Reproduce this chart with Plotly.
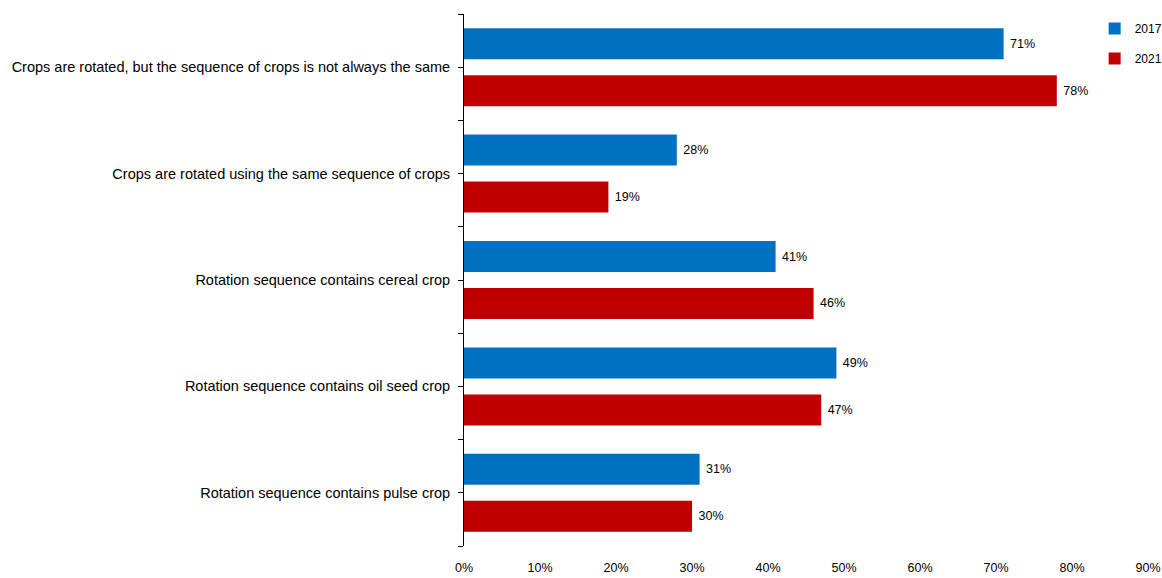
import plotly.graph_objects as go

categories = [
    "Crops are rotated, but the sequence of crops is not always the same",
    "Crops are rotated using the same sequence of crops",
    "Rotation sequence contains cereal crop",
    "Rotation sequence contains oil seed crop",
    "Rotation sequence contains pulse crop",
]
values_2017 = [71, 28, 41, 49, 31]
values_2021 = [78, 19, 46, 47, 30]
series_names = ["2017", "2021"]
x_ticks = [0, 10, 20, 30, 40, 50, 60, 70, 80, 90]

FONT = "Liberation Sans, Arial, sans-serif"
colors = ["#0070C0", "#C00000"]
pos = list(range(len(categories)))

fig = go.Figure()
for name, vals, col in zip(series_names, [values_2017, values_2021], colors):
    fig.add_trace(go.Bar(
        x=vals, y=pos, orientation="h", name=name, legendgroup=name,
        marker=dict(color=col, line=dict(width=0)),
        text=[f" {v}%" for v in vals], textposition="outside",
        textfont=dict(family=FONT, size=12.5, color="#000000"),
        cliponaxis=False,
    ))

fig.update_layout(
    width=1162, height=578,
    margin=dict(l=464, r=14, t=14, b=32, autoexpand=False),
    paper_bgcolor="white", plot_bgcolor="white",
    barmode="group", bargap=0.117, bargroupgap=0.34,
    font=dict(family=FONT, size=12.5, color="#000000"),
    legend=dict(x=0.922, y=1.0, xanchor="left", yanchor="top",
                traceorder="grouped", tracegroupgap=11,
                itemwidth=30,
                font=dict(family=FONT, size=12), bgcolor="rgba(0,0,0,0)"),
    showlegend=True,
)

fig.update_xaxes(
    range=[0, 90], tickvals=x_ticks, ticktext=[f"{t}%" for t in x_ticks],
    showgrid=False, zeroline=False, showline=False, ticks="",
    tickfont=dict(family=FONT, size=12.5), ticklabelstandoff=12, automargin=False,
)
fig.update_yaxes(
    range=[len(categories) - 0.5, -0.5], tickvals=pos, ticktext=categories,
    showgrid=False, zeroline=False, showline=True, linecolor="#000000", linewidth=1,
    ticks="outside", ticklen=5, tickcolor="#000000",
    minor=dict(ticks="outside", ticklen=5, tickcolor="#000000",
               tickvals=[i - 0.5 for i in range(len(categories) + 1)]),
    tickfont=dict(family=FONT, size=14.5), ticklabelstandoff=5, automargin=False,
)

fig.write_html("out.html", config={"displayModeBar": False},
               post_script="document.body.style.margin='0';")
